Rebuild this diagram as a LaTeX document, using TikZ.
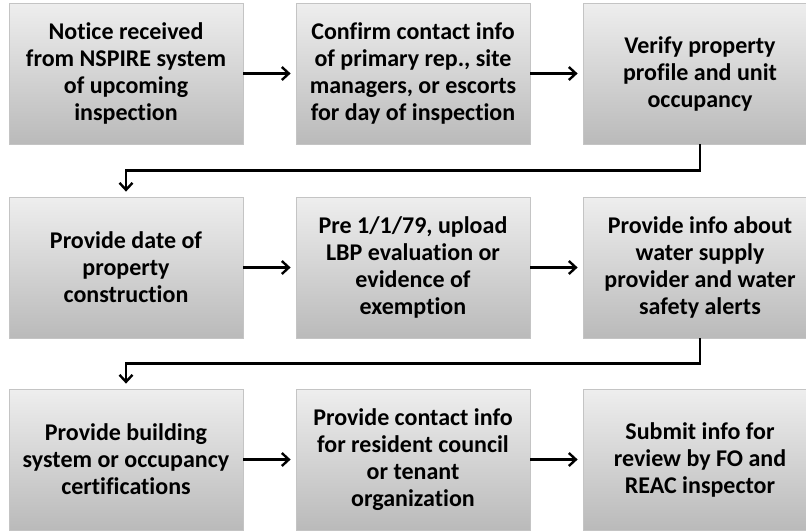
\documentclass[tikz,border=0pt]{standalone}
\usepackage{fontspec}
\setmainfont[Ligatures=NoCommon]{Carlito}
\usetikzlibrary{arrows.meta}

\definecolor{boxtop}{RGB}{238,238,238}
\definecolor{boxbottom}{RGB}{186,186,186}
\definecolor{boxline}{RGB}{196,196,196}

\tikzset{
  stepbox/.style={
    rectangle, draw=boxline, line width=0.8pt,
    top color=boxtop, bottom color=boxbottom,
    minimum width=234pt, minimum height=141pt, inner sep=0pt,
    align=center, text=black,
    font=\bfseries\fontsize{24}{27}\selectfont
  },
  flow/.style={
    draw=black, line width=2.4pt,
    -{Straight Barb[length=7pt,width=13pt,line width=2.4pt]},
    shorten >=5pt
  }
}

\begin{document}
\begin{tikzpicture}[x=1pt,y=-1pt]
\useasboundingbox (0,0) rectangle (806,531);

% first row
\node[stepbox] (n1) at (126,73.5) {Notice received\\from NSPIRE system\\of upcoming\\inspection};
\node[stepbox] (n2) at (413,73.5) {Confirm contact info\\of primary rep., site\\managers, or escorts\\for day of inspection};
\node[stepbox] (n3) at (700,73.5) {Verify property\\profile and unit\\occupancy};

% second row
\node[stepbox] (n4) at (126,267.5) {Provide date of\\property\\construction};
\node[stepbox] (n5) at (413,267.5) {Pre 1/1/79, upload\\LBP evaluation or\\evidence of\\exemption};
\node[stepbox] (n6) at (700,267.5) {Provide info about\\water supply\\provider and water\\safety alerts};

% third row
\node[stepbox] (n7) at (126,459.5) {Provide building\\system or occupancy\\certifications};
\node[stepbox] (n8) at (413,459.5) {Provide contact info\\for resident council\\or tenant\\organization};
\node[stepbox] (n9) at (700,459.5) {Submit info for\\review by FO and\\REAC inspector};

% connectors along each row
\draw[flow] (n1.east) -- (n2.west);
\draw[flow] (n2.east) -- (n3.west);
\draw[flow] (n4.east) -- (n5.west);
\draw[flow] (n5.east) -- (n6.west);
\draw[flow] (n7.east) -- (n8.west);
\draw[flow] (n8.east) -- (n9.west);

% elbow connectors between rows
\draw[flow] (n3.south) -- ++(0,26) -| (n4.north);
\draw[flow] (n6.south) -- ++(0,25) -| (n7.north);
\end{tikzpicture}
\end{document}
